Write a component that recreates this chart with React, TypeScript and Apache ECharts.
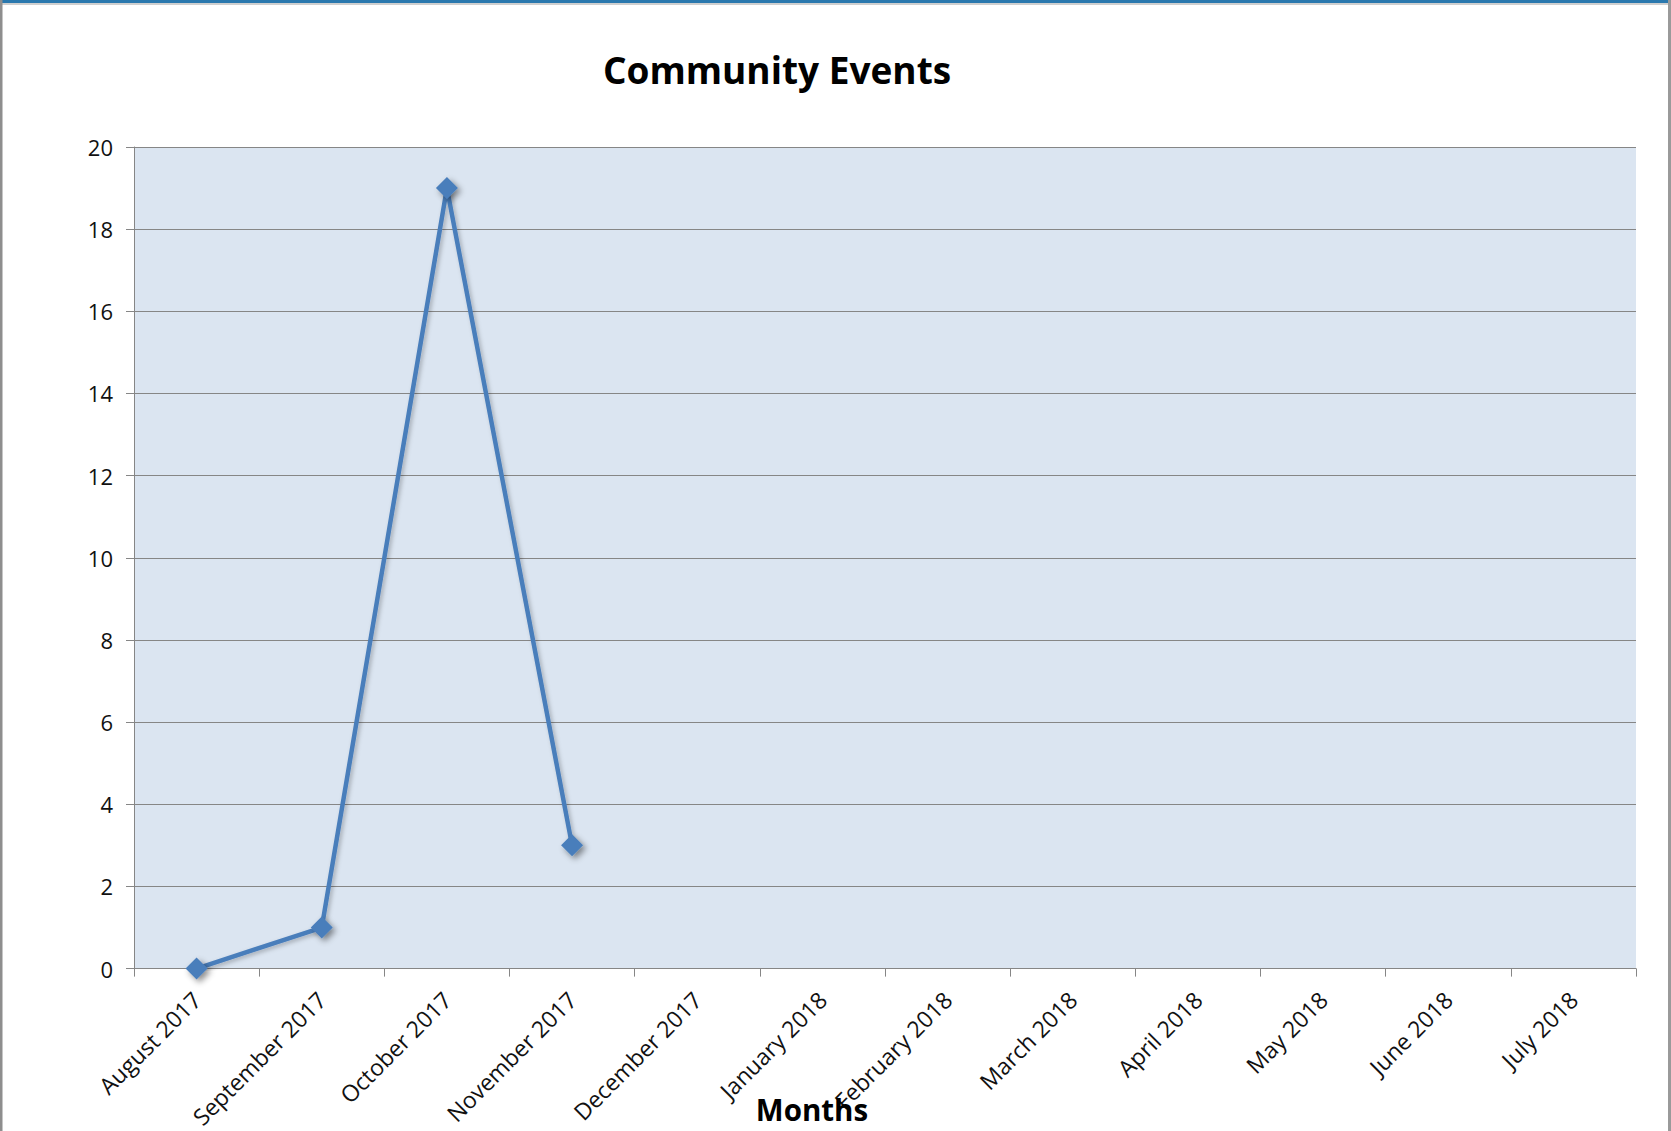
import React, { useEffect, useRef } from "react";
import * as echarts from "echarts";

const titleText = "Community Events";
const xAxisTitle = "Months";
const months = [
  "August 2017",
  "September 2017",
  "October 2017",
  "November 2017",
  "December 2017",
  "January 2018",
  "February 2018",
  "March 2018",
  "April 2018",
  "May 2018",
  "June 2018",
  "July 2018",
];
const eventCounts: (number | null)[] = [0, 1, 19, 3, null, null, null, null, null, null, null, null];
const yMin = 0;
const yMax = 20;
const yStep = 2;

const FONT = "'Open Sans', 'Liberation Sans', sans-serif";
const LINE_BLUE = "#4A7EBB";
const GRID_GREY = "#868686";

export default function App() {
  const ref = useRef<HTMLDivElement>(null);

  useEffect(() => {
    if (!ref.current) return;
    const chart = echarts.init(ref.current, undefined, { renderer: "svg" });
    chart.setOption({
      animation: false,
      backgroundColor: "#ffffff",
      textStyle: { fontFamily: FONT },
      grid: {
        left: 134,
        top: 147,
        right: 35,
        bottom: 145,
        show: true,
        backgroundColor: "#DBE5F1",
        borderWidth: 0,
        containLabel: false,
      },
      xAxis: {
        type: "category",
        data: months,
        boundaryGap: true,
        axisLine: { show: true, lineStyle: { color: GRID_GREY, width: 1 } },
        axisTick: { show: true, length: 8, interval: 0, lineStyle: { color: GRID_GREY } },
        axisLabel: {
          interval: 0,
          rotate: 45,
          margin: 27,
          fontSize: 23,
          color: "#111111",
          fontFamily: FONT,
        },
        splitLine: { show: false },
      },
      yAxis: {
        type: "value",
        min: yMin,
        max: yMax,
        interval: yStep,
        axisLine: { show: true, lineStyle: { color: GRID_GREY, width: 1 } },
        axisTick: { show: true, length: 8, lineStyle: { color: GRID_GREY } },
        axisLabel: { margin: 21, fontSize: 22, color: "#111111", fontFamily: FONT },
        splitLine: { show: true, lineStyle: { color: GRID_GREY, width: 1 } },
      },
      series: [
        {
          type: "line",
          name: titleText,
          data: eventCounts,
          connectNulls: false,
          symbol: "diamond",
          symbolSize: 22,
          lineStyle: {
            color: LINE_BLUE,
            width: 4.5,
            shadowColor: "rgba(0,0,0,0.25)",
            shadowBlur: 4,
            shadowOffsetX: 2,
            shadowOffsetY: 2,
          },
          itemStyle: {
            color: LINE_BLUE,
            borderWidth: 0,
            shadowColor: "rgba(0,0,0,0.45)",
            shadowBlur: 6,
            shadowOffsetX: 3,
            shadowOffsetY: 3,
          },
          z: 5,
        },
      ],
      graphic: [
        { type: "rect", shape: { x: 0, y: 0, width: 1671, height: 3 }, style: { fill: "#2A78AE" }, z: 100 },
        { type: "rect", shape: { x: 0, y: 3, width: 1671, height: 2 }, style: { fill: "#CFCFCF" }, z: 100 },
        { type: "rect", shape: { x: 0, y: 0, width: 2.5, height: 1131 }, style: { fill: "#8E8E8E" }, z: 100 },
        { type: "rect", shape: { x: 1668, y: 0, width: 3, height: 1131 }, style: { fill: "#9A9A9A" }, z: 100 },
        {
          type: "text",
          x: 777,
          y: 69,
          style: {
            text: titleText,
            fontFamily: FONT,
            fontSize: 37,
            fontWeight: "bold",
            fill: "#000000",
            align: "center",
            verticalAlign: "middle",
          },
          z: 100,
        },
        {
          type: "text",
          x: 812,
          y: 1109,
          style: {
            text: xAxisTitle,
            fontFamily: FONT,
            fontSize: 29.5,
            fontWeight: "bold",
            fill: "#000000",
            align: "center",
            verticalAlign: "middle",
          },
          z: 100,
        },
      ],
    });
    return () => chart.dispose();
  }, []);

  return (
    <div
      ref={ref}
      style={{ position: "absolute", left: 0, top: 0, width: 1671, height: 1131, background: "#fff" }}
    />
  );
}
